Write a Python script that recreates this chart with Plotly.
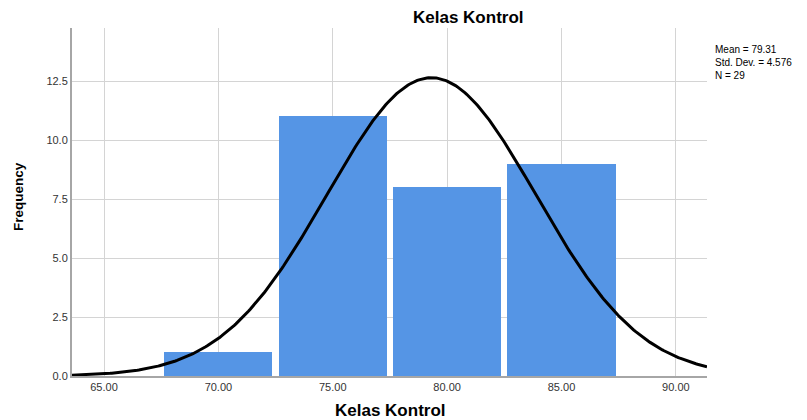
import numpy as np
import plotly.graph_objects as go

bin_centers = [70, 75, 80, 85]
frequencies = [1, 11, 8, 9]
bin_width = 5
mean_val = 79.31
std_val = 4.576
n_val = 29
x_ticks = [65, 70, 75, 80, 85, 90]
x_tick_labels = ["65.00", "70.00", "75.00", "80.00", "85.00", "90.00"]
y_ticks = [0, 2.5, 5, 7.5, 10, 12.5]
y_tick_labels = ["0.0", "2.5", "5.0", "7.5", "10.0", "12.5"]
stats_lines = ["Mean = 79.31", "Std. Dev. = 4.576", "N = 29"]

x_range = [63.6, 91.36]
xs = np.linspace(x_range[0], x_range[1], 400)
ys = n_val * bin_width / (std_val * np.sqrt(2 * np.pi)) * np.exp(-0.5 * ((xs - mean_val) / std_val) ** 2)

W, H = 807, 420
L, R, T, B = 64, 108, 20, 52
PW, PH = W - L - R, H - T - B

def px(fx):
    return (fx - L) / PW

def py(fy):
    return 1 - (fy - T) / PH

fig = go.Figure()
fig.add_trace(go.Bar(x=bin_centers, y=frequencies, width=[bin_width * 0.945] * 4,
                     marker=dict(color="#5595E5", line=dict(width=0)), showlegend=False))
fig.add_trace(go.Scatter(x=xs, y=ys, mode="lines", line=dict(color="black", width=3),
                         showlegend=False))

fig.update_layout(
    width=W, height=H,
    margin=dict(l=L, r=R, t=T, b=B, autoexpand=False),
    plot_bgcolor="white", paper_bgcolor="white",
    font=dict(family="Liberation Sans, Arial, sans-serif", color="#222"),
    xaxis=dict(range=x_range, tickvals=x_ticks, ticktext=x_tick_labels, showgrid=True,
               gridcolor="#d4d4d4", gridwidth=1, showline=True, linecolor="#a6a6a6", linewidth=2,
               ticks="", zeroline=False, tickfont=dict(size=11, color="#333"), automargin=False),
    yaxis=dict(range=[0, 14.75], tickvals=y_ticks, ticktext=y_tick_labels, showgrid=True,
               gridcolor="#d4d4d4", gridwidth=1, showline=True, linecolor="#a6a6a6", linewidth=2,
               ticks="", zeroline=False, tickfont=dict(size=11, color="#333"), automargin=False),
    bargap=0,
)

# chart title
fig.add_annotation(text="<b>Kelas Kontrol</b>", xref="paper", yref="paper",
                   x=px(460), y=py(9), xanchor="center", yanchor="middle", showarrow=False,
                   font=dict(size=17, color="black"))
# x-axis title
fig.add_annotation(text="<b>Kelas Kontrol</b>", xref="paper", yref="paper",
                   x=px(382), y=py(402), xanchor="center", yanchor="middle", showarrow=False,
                   font=dict(size=17, color="black"))
# y-axis title
fig.add_annotation(text="<b>Frequency</b>", xref="paper", yref="paper", textangle=-90,
                   x=px(10), y=py(189), xanchor="center", yanchor="middle", showarrow=False,
                   font=dict(size=13.5, color="black"))

fig.add_annotation(text="<br>".join(stats_lines), xref="paper", yref="paper",
                   x=px(706), y=py(35), xanchor="left", yanchor="top",
                   showarrow=False, align="left", borderpad=0, font=dict(size=10, color="black"))

fig.write_html("out.html")
